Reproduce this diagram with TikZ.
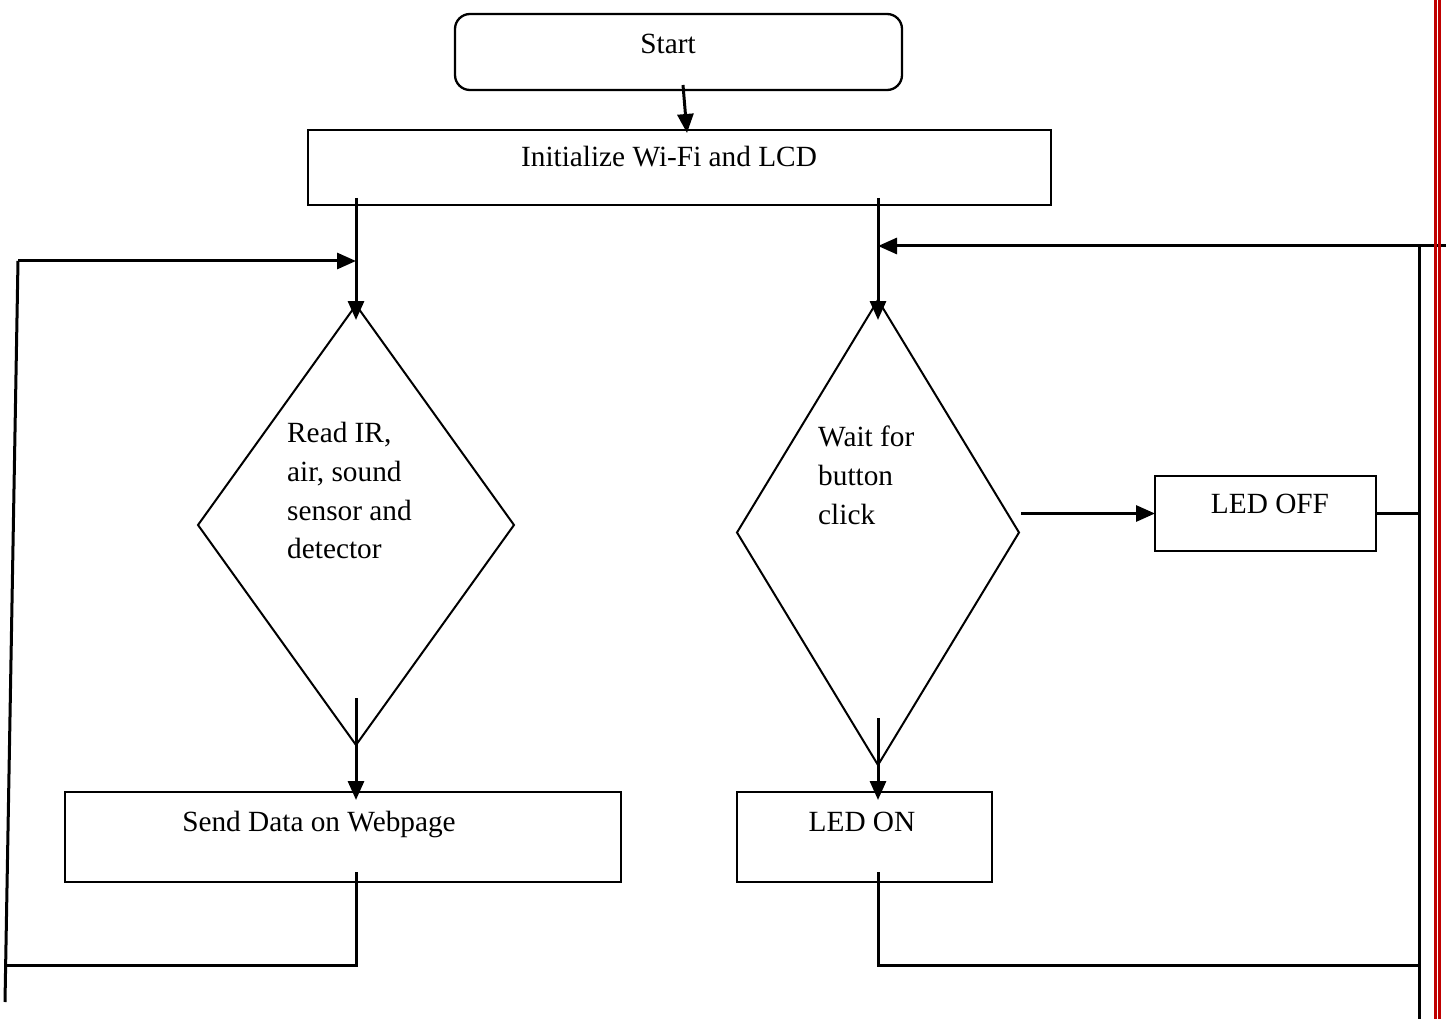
\documentclass[tikz,border=0pt]{standalone}
\usepackage{fontspec}
\setmainfont{Liberation Serif}
\usetikzlibrary{arrows.meta,shapes.geometric,calc}
\definecolor{wordred}{HTML}{C00000}
\begin{document}
\begin{tikzpicture}[x=1pt,y=-1pt,
  box/.style={draw,line width=2.3pt,inner sep=0pt,outer sep=0pt},
  dia/.style={draw,diamond,line width=2pt,inner sep=0pt,outer sep=0pt},
  txt/.style={inner sep=0pt,font=\fontsize{29.3}{38.8}\selectfont},
  conn/.style={line width=3pt},
  arr/.style={conn,-{Triangle[length=19pt,width=16pt]}},
  redline/.style={draw=wordred,line width=2.8pt}
  ]
\useasboundingbox (0,0) rectangle (1449,1019);
% shapes
\node[box,rounded corners=15pt,minimum width=447pt,minimum height=76pt] (start) at (678.5,52) {};
\node[txt,anchor=base] (starttxt) at (668,54) {Start};
\node[box,minimum width=743pt,minimum height=75pt] (init) at (679.5,167.5) {};
\node[txt,anchor=base] (inittxt) at (669,167) {Initialize Wi-Fi and LCD};
\node[dia,minimum width=316pt,minimum height=440pt] (ld) at (356,525) {};
\node[txt,anchor=north west,align=left] (ldtxt) at (287,422) {Read IR,\\air, sound\\sensor and\\detector};
\node[dia,minimum width=282pt,minimum height=465pt] (rd) at (878,532.5) {};
\node[txt,anchor=north west,align=left] (rdtxt) at (818,426) {Wait for\\button\\click};
\node[box,minimum width=556pt,minimum height=90pt] (send) at (343,837) {};
\node[txt,anchor=base] (sendtxt) at (319,831) {Send Data on Webpage};
\node[box,minimum width=255pt,minimum height=90pt] (ledon) at (864.5,837) {};
\node[txt,anchor=base] (ledontxt) at (862,831) {LED ON};
\node[box,minimum width=221pt,minimum height=75pt] (ledoff) at (1265.5,513.5) {};
\node[txt,anchor=base] (ledofftxt) at (1270,513) {LED OFF};
% helper coordinates
\coordinate (lt) at (18,261);
\coordinate (le) at (5,1002);
\coordinate (lb) at (5.7,965);
\coordinate (rt) at (1446,246);
\coordinate (rv) at (1419,246);
\coordinate (rb) at (1419,1019);
\coordinate (rbot) at (1419,965);
% connectors
\draw[arr] ($(start.south)+(4.5,-5)$) -- ($(init.north)+(7.5,3)$);
\draw[arr] ($(init.south -| ld.north)+(0,-7)$) -- ($(ld.north)+(0,15)$);
\draw[arr] ($(init.south -| rd.north)+(0,-7)$) -- ($(rd.north)+(0,20)$);
\draw[arr] ($(ld.south)+(0,-47)$) -- ($(send.north -| ld.south)+(0,8)$);
\draw[arr] ($(rd.south)+(0,-47)$) -- ($(ledon.north -| rd.south)+(0,8)$);
\draw[arr] ($(rd.east |- ledoff.west)+(2,0)$) -- (ledoff.west);
% left loop
\draw[conn] ($(send.south -| ld.south)+(0,-10)$) |- (lb);
\draw[conn] (le) -- (lt);
\draw[arr] (lt) -- (lt -| ld.north);
% right loop
\draw[arr] (rt) -- (rt -| rd.north);
\draw[conn] (rv) -- (rb);
\draw[conn] (ledoff.east) -- (ledoff.east -| rv);
\draw[conn] ($(ledon.south -| rd.south)+(0,-10)$) |- (rbot);
% page border
\draw[redline] (1435.6,0) -- (1435.6,1019);
\draw[redline] (1439.8,0) -- (1439.8,1019);
\end{tikzpicture}
\end{document}
